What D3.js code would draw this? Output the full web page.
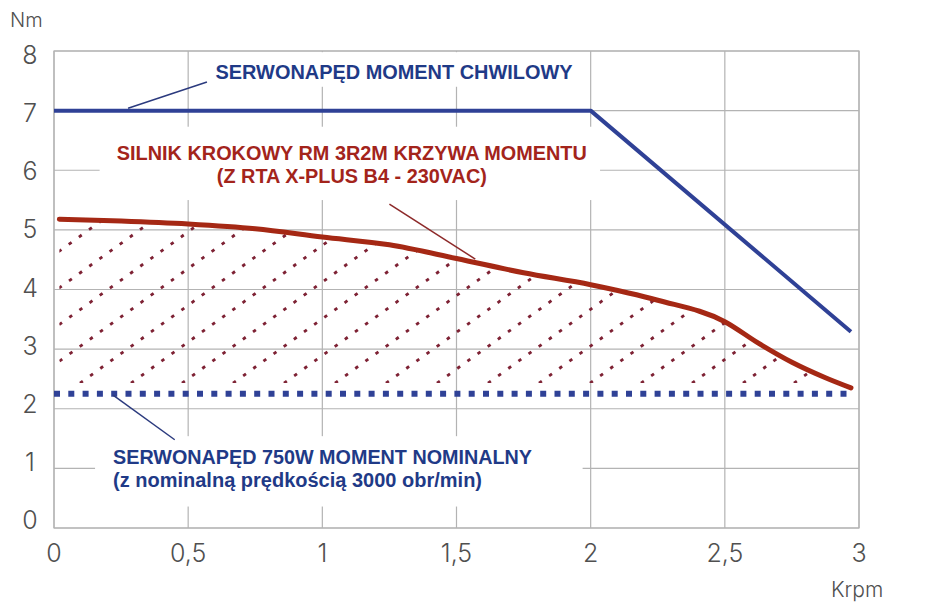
<!DOCTYPE html>
<html lang="pl">
<head>
    <meta charset="UTF-8">
    <title>Moment obrotowy - serwonaped vs silnik krokowy</title>
    <script src="https://d3js.org/d3.v7.min.js"></script>
    <style>
        body { margin: 0; background: #fff; }
        .tick-label { font-family: Inter, "Noto Sans", sans-serif; font-weight: 300; fill: #505050; }
        .note { font-family: "Liberation Sans", Arial, sans-serif; font-weight: bold; }
    </style>
</head>
<body>
<svg width="947" height="609"></svg>

<script>
    // axis ticks
    const xTicks = [0, 0.5, 1, 1.5, 2, 2.5, 3];
    const xTickLabels = ["0", "0,5", "1", "1,5", "2", "2,5", "3"];
    const yTicks = [0, 1, 2, 3, 4, 5, 6, 7, 8];
    const yTickLabels = ["0", "1", "2", "3", "4", "5", "6", "7", "8"];

    // stepper RM 3R2M torque curve (krpm, Nm)
    const stepperRpm    = [0.02, 0.25, 0.5, 0.75, 1.0, 1.25, 1.5, 1.75, 2.0, 2.25, 2.5, 2.625, 2.75, 2.875, 2.97];
    const stepperTorque = [5.18, 5.15, 5.10, 5.02, 4.88, 4.75, 4.52, 4.28, 4.08, 3.82, 3.46, 3.10, 2.78, 2.52, 2.35];

    // servo peak torque
    const peakRpm    = [0, 2, 2.97];
    const peakTorque = [7, 7, 3.29];

    // servo nominal torque
    const nominalRpm    = [0, 2.97];
    const nominalTorque = [2.25, 2.25];

    // lower limit of the hatched area
    const hatchFloor = 2.43;

    const labelPeak = ["SERWONAPĘD MOMENT CHWILOWY"];
    const labelStepper = ["SILNIK KROKOWY RM 3R2M KRZYWA MOMENTU", "(Z RTA X-PLUS B4 - 230VAC)"];
    const labelNominal = ["SERWONAPĘD 750W MOMENT NOMINALNY", "(z nominalną prędkością 3000 obr/min)"];

    const svg = d3.select("svg");
    const x = d3.scaleLinear().domain([0, 3]).range([54, 859]);
    const y = d3.scaleLinear().domain([0, 8]).range([528, 51]);
    // the y tick labels sit slightly inside the grid in the original
    const yLab = d3.scaleLinear().domain([0, 8]).range([520, 55]);

    const gridColor = "#b3b3b3";
    const blue = "#2f4196";
    const blueText = "#1f3a87";
    const red = "#a52814";
    const redText = "#a3241b";

    // grid
    const grid = svg.append("g");
    grid.selectAll(".vgrid").data(xTicks).enter().append("line")
        .attr("x1", d => x(d)).attr("x2", d => x(d))
        .attr("y1", y(0)).attr("y2", y(8))
        .attr("stroke", gridColor).attr("stroke-width", 1.2);
    grid.selectAll(".hgrid").data(yTicks).enter().append("line")
        .attr("x1", x(0)).attr("x2", x(3))
        .attr("y1", d => y(d)).attr("y2", d => y(d))
        .attr("stroke", gridColor).attr("stroke-width", 1.2);

    // white boxes behind the notes (they cut the grid in the original)
    const boxes = [
        {x0: 0.56, x1: 1.96, y0: 7.98, y1: 7.4},
        {x0: 0.17, x1: 2.035, y0: 6.73, y1: 5.5},
        {x0: 0.153, x1: 1.97, y0: 1.54, y1: 0.36}
    ];
    svg.append("g").selectAll("rect").data(boxes).enter().append("rect")
        .attr("x", d => x(d.x0)).attr("width", d => x(d.x1) - x(d.x0))
        .attr("y", d => y(d.y0)).attr("height", d => y(d.y1) - y(d.y0))
        .attr("fill", "#fff");

    // frame
    svg.append("rect")
        .attr("x", x(0)).attr("y", y(8))
        .attr("width", x(3) - x(0)).attr("height", y(0) - y(8))
        .attr("fill", "none").attr("stroke", gridColor).attr("stroke-width", 1.2);

    // tick labels
    svg.append("g").selectAll("text").data(xTicks).enter().append("text")
        .attr("class", "tick-label")
        .attr("x", d => x(d)).attr("y", 562)
        .attr("text-anchor", "middle").attr("font-size", 25)
        .text((d, i) => xTickLabels[i]);
    svg.append("g").selectAll("text").data(yTicks).enter().append("text")
        .attr("class", "tick-label")
        .attr("x", 30).attr("y", d => yLab(d) + 9)
        .attr("text-anchor", "middle").attr("font-size", 25)
        .text((d, i) => yTickLabels[i]);

    svg.append("text").attr("class", "tick-label")
        .attr("x", 10).attr("y", 27).attr("font-size", 20).text("Nm");
    svg.append("text").attr("class", "tick-label")
        .attr("x", 831).attr("y", 597).attr("font-size", 21).text("Krpm");

    const stepper = stepperRpm.map((r, i) => [r, stepperTorque[i]]);

    // hatched area under the stepper curve
    const area = d3.area()
        .x(d => x(d[0]))
        .y0(y(hatchFloor))
        .y1(d => y(d[1]))
        .curve(d3.curveMonotoneX);
    svg.append("clipPath").attr("id", "hatch-clip")
        .append("path").attr("d", area(stepper.filter(d => d[1] >= hatchFloor).concat([[2.915, hatchFloor]])));

    const slope = 0.72, step = 51, startX = 80;
    svg.append("g").attr("clip-path", "url(#hatch-clip)")
        .selectAll("line").data(d3.range(-10, 17)).enter().append("line")
        .attr("x1", k => startX + k * step).attr("y1", y(hatchFloor))
        .attr("x2", k => startX + k * step + 600).attr("y2", y(hatchFloor) - 600 * slope)
        .attr("stroke", "#7e2234").attr("stroke-width", 2.8)
        .attr("stroke-dasharray", "3.5,9");

    const line = d3.line().x(d => x(d[0])).y(d => y(d[1]));

    // nominal torque (dotted)
    svg.append("path")
        .datum(nominalRpm.map((r, i) => [r, nominalTorque[i]]))
        .attr("d", line)
        .attr("fill", "none").attr("stroke", blue).attr("stroke-width", 6)
        .attr("stroke-dasharray", "6,8.3");

    // peak torque
    svg.append("path")
        .datum(peakRpm.map((r, i) => [r, peakTorque[i]]))
        .attr("d", line)
        .attr("fill", "none").attr("stroke", blue).attr("stroke-width", 4)
        .attr("stroke-linejoin", "round");

    // stepper curve
    svg.append("path")
        .datum(stepper)
        .attr("d", line.curve(d3.curveMonotoneX))
        .attr("fill", "none").attr("stroke", red).attr("stroke-width", 5)
        .attr("stroke-linecap", "round");

    // leader lines
    const leaders = [
        {from: [0.276, 7.04], to: [0.57, 7.48], color: "#2b3a7e"},
        {from: [1.25, 5.43], to: [1.57, 4.51], color: "#8d2a2a"},
        {from: [0.22, 2.23], to: [0.45, 1.48], color: "#2b3a7e"}
    ];
    svg.append("g").selectAll("line").data(leaders).enter().append("line")
        .attr("x1", d => x(d.from[0])).attr("y1", d => y(d.from[1]))
        .attr("x2", d => x(d.to[0])).attr("y2", d => y(d.to[1]))
        .attr("stroke", d => d.color).attr("stroke-width", 1.5);

    // notes
    svg.append("text").attr("class", "note")
        .attr("x", x(0.602)).attr("y", y(7.53))
        .attr("font-size", 20).attr("fill", blueText)
        .attr("textLength", 357).attr("lengthAdjust", "spacingAndGlyphs")
        .text(labelPeak[0]);

    const stepperWidths = [470, 270];
    svg.append("g").selectAll("text").data(labelStepper).enter().append("text")
        .attr("class", "note")
        .attr("x", x(1.11)).attr("y", (d, i) => y(6.17) + i * 23)
        .attr("text-anchor", "middle")
        .attr("font-size", 19.5).attr("fill", redText)
        .attr("textLength", (d, i) => stepperWidths[i]).attr("lengthAdjust", "spacingAndGlyphs")
        .text(d => d);

    const nominalWidths = [419, 369];
    svg.append("g").selectAll("text").data(labelNominal).enter().append("text")
        .attr("class", "note")
        .attr("x", x(0.22)).attr("y", (d, i) => y(1.08) + i * 23)
        .attr("font-size", 19.5).attr("fill", blueText)
        .attr("textLength", (d, i) => nominalWidths[i]).attr("lengthAdjust", "spacingAndGlyphs")
        .text(d => d);
</script>
</body>
</html>
